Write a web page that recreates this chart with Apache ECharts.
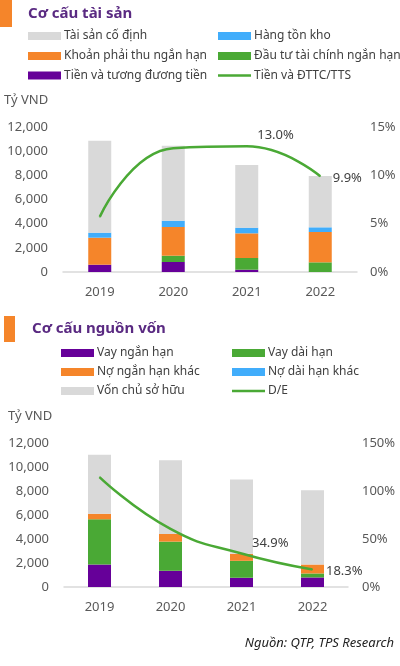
<!DOCTYPE html>
<html><head><meta charset="utf-8">
<script src="https://cdn.jsdelivr.net/npm/echarts@6/dist/echarts.min.js"></script>
<style>html,body{margin:0;padding:0;background:#fff}#c{width:400px;height:666px}</style>
</head><body><div id="c"></div>
<script>
// ---------- Data ----------
const years = ['2019', '2020', '2021', '2022'];
// Cơ cấu tài sản (Tỷ VND)
const cashEq      = [604, 828, 190, 0];      // Tiền và tương đương tiền
const stInvest    = [0, 521, 969, 800];      // Đầu tư tài chính ngắn hạn
const receivables = [2235, 2375, 2041, 2510];// Khoản phải thu ngắn hạn
const inventory   = [413, 522, 466, 387];    // Hàng tồn kho
const fixedAssets = [7614, 6207, 5189, 4248];// Tài sản cố định
const cashRatio   = [5.7, 12.8, 13.0, 9.9];  // Tiền và ĐTTC/TTS (%)
// Cơ cấu nguồn vốn (Tỷ VND)
const stLoans     = [1874, 1352, 771, 796];  // Vay ngắn hạn
const ltLoans     = [3766, 2430, 1410, 332]; // Vay dài hạn
const otherSt     = [464, 638, 581, 746];    // Nợ ngắn hạn khác
const otherLt     = [0, 0, 0, 0];            // Nợ dài hạn khác
const equity      = [4926, 6137, 6194, 6195];// Vốn chủ sở hữu
const deRatio     = [114.5, 60.5, 34.9, 18.3]; // D/E (%)
const leftTicks   = {min: 0, max: 12000, interval: 2000};

const C = {gray:'#d9d9d9', blue:'#41adfb', orange:'#f5852a', green:'#4aa935', purple:'#660099', title:'#5a2a82', text:'#404040', axis:'#595959'};
const FONT = 'Noto Sans';

const chart = echarts.init(document.getElementById('c'), null, {renderer:'canvas'});

function bar(name, data, color, gi) {
  return {type:'bar', name, data, stack:'s'+gi, xAxisIndex:gi, yAxisIndex:gi*2,
    barWidth:23, itemStyle:{color}, emphasis:{disabled:true}};
}
function lbl(dist, off) {
  return {show:true, position:'right', distance:dist, offset:off, color:C.text, fontSize:13, fontFamily:FONT,
    formatter:p => p.value.toFixed(1) + '%'};
}
function lineData(arr, labels) {
  return arr.map((v,i) => labels[i] ? {value:v, label:labels[i]} : {value:v});
}

function legendItems(y, items) {
  const g = [];
  items.forEach((it, i) => {
    const yy = y[i];
    if (it.line) {
      g.push({type:'rect', shape:{x:it.x, y:yy-1.2, width:33, height:2.4}, style:{fill:it.color}});
    } else {
      g.push({type:'rect', shape:{x:it.x, y:yy-4, width:33, height:8}, style:{fill:it.color}});
    }
    g.push({type:'text', x:it.x+36, y:yy, style:{text:it.name, fill:C.text, font:'12px "'+FONT+'"', textVerticalAlign:'middle'}});
  });
  return g;
}

const graphic = [
  {type:'rect', shape:{x:0, y:0, width:12, height:27}, style:{fill:C.orange}},
  {type:'text', x:28, y:14, style:{text:'Cơ cấu tài sản', fill:C.title, font:'bold 15px "'+FONT+'"', textVerticalAlign:'middle'}},
  ...legendItems([36,36,56,56,75.5,75.5], [
    {x:28, name:'Tài sản cố định', color:C.gray},
    {x:218, name:'Hàng tồn kho', color:C.blue},
    {x:28, name:'Khoản phải thu ngắn hạn', color:C.orange},
    {x:218, name:'Đầu tư tài chính ngắn hạn', color:C.green},
    {x:28, name:'Tiền và tương đương tiền', color:C.purple},
    {x:218, name:'Tiền và ĐTTC/TTS', color:C.green, line:true}
  ]),
  {type:'text', x:4, y:100, style:{text:'Tỷ VND', fill:C.axis, font:'13px "'+FONT+'"', textVerticalAlign:'middle'}},
  {type:'rect', shape:{x:4, y:316, width:11, height:26}, style:{fill:C.orange}},
  {type:'text', x:32, y:329, style:{text:'Cơ cấu nguồn vốn', fill:C.title, font:'bold 15px "'+FONT+'"', textVerticalAlign:'middle'}},
  ...legendItems([353,353,372,372,391,391], [
    {x:61, name:'Vay ngắn hạn', color:C.purple},
    {x:232, name:'Vay dài hạn', color:C.green},
    {x:61, name:'Nợ ngắn hạn khác', color:C.orange},
    {x:232, name:'Nợ dài hạn khác', color:C.blue},
    {x:61, name:'Vốn chủ sở hữu', color:C.gray},
    {x:232, name:'D/E', color:C.green, line:true}
  ]),
  {type:'text', x:8, y:416, style:{text:'Tỷ VND', fill:C.axis, font:'13px "'+FONT+'"', textVerticalAlign:'middle'}},
  {type:'text', x:394, y:643, style:{text:'Nguồn: QTP, TPS Research', fill:'#222', font:'italic 13px "'+FONT+'"', textAlign:'right', textVerticalAlign:'middle'}}
];

const axisLabel = {color:C.axis, fontSize:13, fontFamily:FONT};
function xAx(gi) {
  return {type:'category', gridIndex:gi, data:years, axisTick:{show:false},
    axisLine:{lineStyle:{color:'#d9d9d9', width:1.5}}, axisLabel:{...axisLabel, margin:14}};
}
function yLeft(gi) {
  return {type:'value', gridIndex:gi, ...leftTicks, position:'left', splitLine:{show:false},
    axisLine:{show:false}, axisTick:{show:false},
    axisLabel:{...axisLabel, margin:15, formatter:v => v.toLocaleString('en-US')}};
}
function yRight(gi, max, interval, margin) {
  return {type:'value', gridIndex:gi, min:0, max, interval, position:'right', splitLine:{show:false},
    axisLine:{show:false}, axisTick:{show:false},
    axisLabel:{...axisLabel, margin, align:'left', formatter:'{value}%'}};
}

chart.setOption({
  animation:false,
  textStyle:{fontFamily:FONT},
  graphic,
  grid:[
    {left:63, top:127, width:294, height:145},
    {left:64, top:443, width:284, height:144}
  ],
  xAxis:[xAx(0), xAx(1)],
  yAxis:[yLeft(0), yRight(0, 15, 5, 13), yLeft(1), yRight(1, 150, 50, 14)],
  series:[
    bar('Tiền và tương đương tiền', cashEq, C.purple, 0),
    bar('Đầu tư tài chính ngắn hạn', stInvest, C.green, 0),
    bar('Khoản phải thu ngắn hạn', receivables, C.orange, 0),
    bar('Hàng tồn kho', inventory, C.blue, 0),
    bar('Tài sản cố định', fixedAssets, C.gray, 0),
    {type:'line', name:'Tiền và ĐTTC/TTS', xAxisIndex:0, yAxisIndex:1, smooth:0.5,
      data:lineData(cashRatio, [null, null, lbl(10,[0,-11]), lbl(12,[0,2])]),
      symbol:'circle', symbolSize:1, showSymbol:true, itemStyle:{color:C.green},
      lineStyle:{color:C.green, width:2.5}, emphasis:{disabled:true}, z:5},
    bar('Vay ngắn hạn', stLoans, C.purple, 1),
    bar('Vay dài hạn', ltLoans, C.green, 1),
    bar('Nợ ngắn hạn khác', otherSt, C.orange, 1),
    bar('Nợ dài hạn khác', otherLt, C.blue, 1),
    bar('Vốn chủ sở hữu', equity, C.gray, 1),
    {type:'line', name:'D/E', xAxisIndex:1, yAxisIndex:3, smooth:0.5,
      data:lineData(deRatio, [null, null, lbl(10,[0,-10]), lbl(13,[0,2])]),
      symbol:'circle', symbolSize:1, showSymbol:true, itemStyle:{color:C.green},
      lineStyle:{color:C.green, width:2.5}, emphasis:{disabled:true}, z:5}
  ]
});
</script></body></html>
